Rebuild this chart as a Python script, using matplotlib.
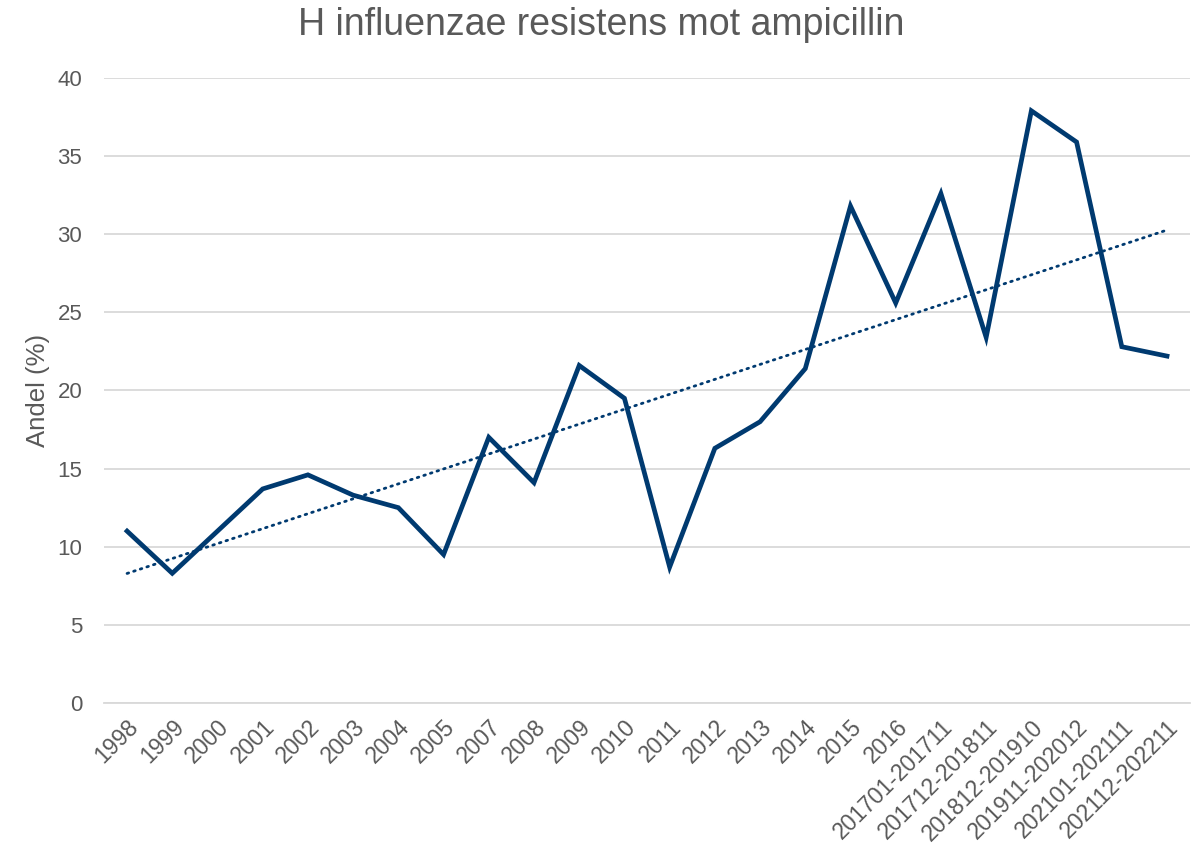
import numpy as np
import matplotlib
matplotlib.use("Agg")
import matplotlib.pyplot as plt

plt.rcParams['font.family'] = ['Liberation Sans', 'DejaVu Sans']

categories = ["1998", "1999", "2000", "2001", "2002", "2003", "2004", "2005",
              "2007", "2008", "2009", "2010", "2011", "2012", "2013", "2014",
              "2015", "2016", "201701-201711", "201712-201811", "201812-201910",
              "201911-202012", "202101-202111", "202112-202211"]
values = [11.0, 8.3, 11.0, 13.7, 14.6, 13.3, 12.5, 9.5,
          17.0, 14.1, 21.6, 19.5, 8.7, 16.3, 18.0, 21.4,
          31.8, 25.6, 32.6, 23.4, 37.9, 35.9, 22.8, 22.2]
yticks = [0, 5, 10, 15, 20, 25, 30, 35, 40]

line_color = '#003A70'
text_color = '#595959'

fig = plt.figure(figsize=(12.02, 8.55), dpi=100)
ax = fig.add_axes([0.0869, 0.1778, 0.9897 - 0.0869, 0.9088 - 0.1778])

x = np.arange(len(categories))
ax.plot(x, values, color=line_color, lw=3.4, solid_joinstyle='miter', zorder=3)

coef = np.polyfit(x, values, 1)
ax.plot(x, np.polyval(coef, x), color=line_color, lw=2.0, linestyle=(0, (0.6, 1.9)),
        dash_capstyle='round', zorder=2)

ax.set_xlim(-0.5, len(categories) - 0.5)
ax.set_ylim(0, 40)
ax.set_yticks(yticks)
ax.set_yticklabels([str(v) for v in yticks])
ax.set_xticks(x)
ax.set_xticklabels(categories, rotation=45, ha='right', rotation_mode='anchor')

ax.grid(axis='y', color='#D9D9D9', lw=1.3)
ax.set_axisbelow(True)
for s in ['top', 'right', 'left']:
    ax.spines[s].set_visible(False)
ax.spines['bottom'].set_color('#D9D9D9')
ax.spines['bottom'].set_linewidth(1.3)
ax.tick_params(axis='both', length=0, colors=text_color)
ax.tick_params(axis='y', pad=16, labelsize=16)
ax.tick_params(axis='x', pad=9, labelsize=16.5)

ax.set_ylabel('Andel (%)', fontsize=18.5, color=text_color)
ax.yaxis.set_label_coords(-0.050, 0.5)
fig.suptitle('H influenzae resistens mot ampicillin', fontsize=27, color=text_color, y=0.992)

fig.savefig('out.png', dpi=100)
